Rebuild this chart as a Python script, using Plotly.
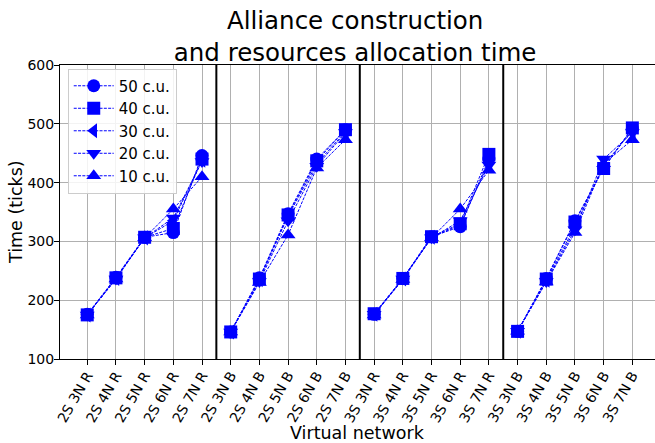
import plotly.graph_objects as go

# Virtual network configurations (x axis)
networks = [
    "2S 3N R", "2S 4N R", "2S 5N R", "2S 6N R", "2S 7N R",
    "2S 3N B", "2S 4N B", "2S 5N B", "2S 6N B", "2S 7N B",
    "3S 3N R", "3S 4N R", "3S 5N R", "3S 6N R", "3S 7N R",
    "3S 3N B", "3S 4N B", "3S 5N B", "3S 6N B", "3S 7N B",
]

# Allocation time (ticks) per computing-unit budget
time_50cu = [176, 239, 307, 315, 446, 146, 238, 347, 440, 490,
             176, 237, 308, 325, 440, 147, 237, 335, 425, 492]
time_40cu = [175, 238, 307, 322, 440, 146, 236, 345, 437, 490,
             177, 237, 308, 330, 448, 147, 236, 333, 424, 493]
time_30cu = [175, 237, 306, 335, 438, 146, 235, 343, 432, 487,
             176, 236, 307, 328, 435, 147, 234, 325, 430, 488]
time_20cu = [175, 236, 306, 340, 436, 146, 232, 335, 428, 485,
             176, 236, 306, 335, 430, 147, 232, 320, 440, 485]
time_10cu = [175, 236, 306, 355, 410, 146, 230, 311, 425, 473,
             175, 235, 306, 355, 421, 147, 231, 315, 432, 473]

series_names = ["50 c.u.", "40 c.u.", "30 c.u.", "20 c.u.", "10 c.u."]
series_values = [time_50cu, time_40cu, time_30cu, time_20cu, time_10cu]
series_symbols = ["circle", "square", "triangle-left", "triangle-down", "triangle-up"]

# Each family of 5 networks is drawn as its own line segment
group_size = 5
n_groups = len(networks) // group_size
# Group separators between topology families
separators = [4.5, 9.5, 14.5]

font_family = "DejaVu Sans"

fig = go.Figure()
for name, vals, sym in zip(series_names, series_values, series_symbols):
    for g in range(n_groups):
        sl = slice(g * group_size, (g + 1) * group_size)
        fig.add_trace(go.Scatter(
            x=networks[sl], y=vals[sl], name=name, legendgroup=name,
            showlegend=(g == 0), mode="lines+markers",
            line=dict(color="#0000ff", width=1, dash="3px,1.3px"),
            marker=dict(symbol=sym, size=13, color="#0000ff", line=dict(width=0)),
        ))

for xs in separators:
    fig.add_shape(type="line", xref="x", yref="paper", x0=xs, x1=xs, y0=0, y1=1,
                  line=dict(color="black", width=2))

# Axis titles
fig.add_annotation(text="Virtual network", xref="paper", yref="paper",
                   x=0.5, y=-0.252, xanchor="center", yanchor="middle",
                   showarrow=False, font=dict(size=17.5, family=font_family))
fig.add_annotation(text="Time (ticks)", xref="paper", yref="paper",
                   x=-0.074, y=0.5, xanchor="center", yanchor="middle",
                   textangle=-90, showarrow=False,
                   font=dict(size=17.5, family=font_family))

fig.update_layout(
    width=655, height=443,
    margin=dict(l=60, r=0, t=65, b=84),
    paper_bgcolor="white", plot_bgcolor="white",
    font=dict(family=font_family, color="black", size=15),
    title=dict(
        text="Alliance construction<br>and resources allocation time",
        x=0.496, xref="paper", xanchor="center",
        y=0.935, yref="container", yanchor="top",
        font=dict(size=24.5, family=font_family),
    ),
    showlegend=True,
    legend=dict(
        x=0.013, y=0.988, xanchor="left", yanchor="top",
        bgcolor="rgba(255,255,255,0.85)", bordercolor="#cccccc", borderwidth=1,
        font=dict(size=15, family=font_family),
        tracegroupgap=0, itemwidth=40,
    ),
)

fig.update_xaxes(
    type="category", range=[-0.95, 19.79],
    tickangle=-60, tickfont=dict(size=14), ticklabelstandoff=-3,
    ticks="outside", ticklen=5, tickcolor="black",
    showgrid=True, gridcolor="#b0b0b0", gridwidth=1,
    showline=True, linecolor="black", linewidth=1, mirror=True,
)
fig.update_yaxes(
    range=[100, 600], tickvals=[100, 200, 300, 400, 500, 600],
    tickfont=dict(size=14), ticklabelstandoff=-3,
    ticks="outside", ticklen=5, tickcolor="black",
    showgrid=True, gridcolor="#b0b0b0", gridwidth=1,
    showline=True, linecolor="black", linewidth=1,
    zeroline=False,
)

fig.write_html("out.html")
